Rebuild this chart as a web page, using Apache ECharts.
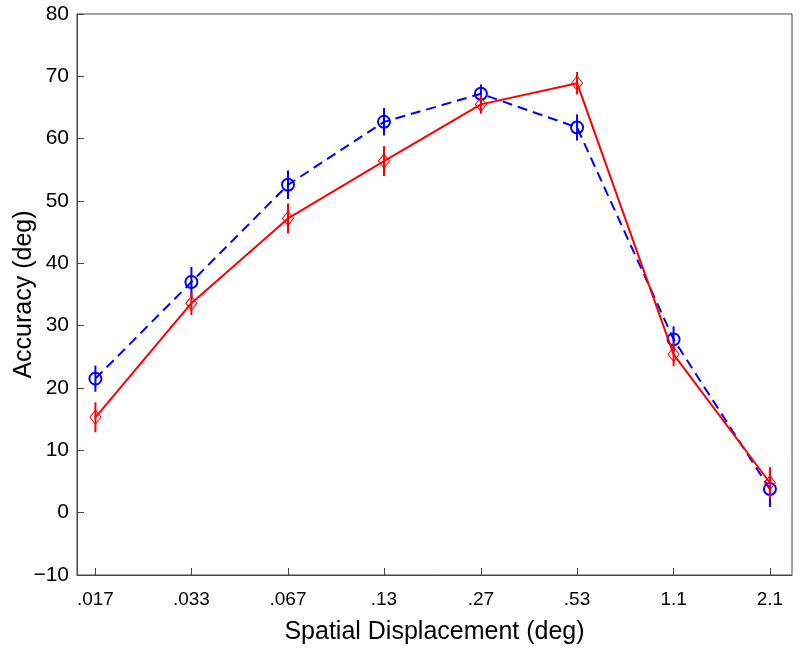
<!DOCTYPE html>
<html>
<head>
<meta charset="utf-8">
<script src="https://cdn.jsdelivr.net/npm/echarts@6/dist/echarts.min.js"></script>
<style>html,body{margin:0;padding:0;background:#fff}#c{width:800px;height:650px}</style>
</head>
<body>
<div id="c"></div>
<script>
// Spatial displacement (deg) – actual values and their printed tick labels
var xValues = [0.0167, 0.0333, 0.0667, 0.133, 0.267, 0.533, 1.067, 2.133];
var xTickLabels = ['.017', '.033', '.067', '.13', '.27', '.53', '1.1', '2.1'];

// Blue (dashed, circles)
var blueMean = [21.5, 37.0, 52.6, 62.7, 67.2, 61.8, 27.8, 3.8];
var blueErr  = [2.1, 2.4, 2.3, 2.2, 1.5, 2.1, 2.1, 2.9];

// Red (solid, diamonds)
var redMean = [15.3, 33.6, 47.2, 56.4, 65.5, 68.9, 25.4, 4.8];
var redErr  = [2.4, 1.9, 2.4, 2.4, 1.5, 1.8, 1.9, 2.5];

var FONT = 'Liberation Sans';
var AXIS = '#444';

function pts(m) { return xValues.map(function (x, i) { return [x, m[i]]; }); }
function errs(m, e) { return xValues.map(function (x, i) { return [x, m[i] - e[i], m[i] + e[i]]; }); }

function errSeries(data, color) {
  return {
    type: 'custom',
    data: data,
    silent: true,
    z: 3,
    renderItem: function (params, api) {
      var a = api.coord([api.value(0), api.value(1)]);
      var b = api.coord([api.value(0), api.value(2)]);
      return {
        type: 'line',
        shape: { x1: a[0], y1: a[1], x2: b[0], y2: b[1] },
        style: { stroke: color, lineWidth: 2 }
      };
    },
    encode: { x: 0, y: [1, 2] }
  };
}

var chart = echarts.init(document.getElementById('c'), null, { renderer: 'canvas' });
chart.setOption({
  animation: false,
  backgroundColor: '#fff',
  grid: { left: 77, right: 8, top: 14, bottom: 75, show: true, borderColor: AXIS, borderWidth: 1, containLabel: false, outerBoundsMode: 'none' },
  xAxis: {
    type: 'log',
    logBase: 2,
    min: 0.01463,
    max: 2.5,
    name: 'Spatial Displacement (deg)',
    nameLocation: 'middle',
    nameGap: 45,
    nameTextStyle: { fontFamily: FONT, fontSize: 25, color: '#000' },
    axisLine: { show: true, onZero: false, lineStyle: { color: AXIS, width: 1 } },
    axisTick: { show: true, inside: true, length: 7, customValues: xValues, lineStyle: { color: AXIS } },
    axisLabel: {
      customValues: xValues,
      margin: 15,
      fontFamily: FONT, fontSize: 19, color: '#000',
      formatter: function (v) {
        var best = 0, bd = Infinity;
        for (var i = 0; i < xValues.length; i++) {
          var d = Math.abs(Math.log(v) - Math.log(xValues[i]));
          if (d < bd) { bd = d; best = i; }
        }
        return xTickLabels[best];
      }
    },
    splitLine: { show: false },
    minorTick: { show: false }
  },
  yAxis: {
    type: 'value',
    min: -10,
    max: 80,
    interval: 10,
    name: 'Accuracy (deg)',
    nameLocation: 'middle',
    nameGap: 40,
    nameMoveOverlap: false,
    nameTextStyle: { fontFamily: FONT, fontSize: 25, color: '#000' },
    axisLine: { show: true, onZero: false, lineStyle: { color: AXIS, width: 1 } },
    axisTick: { show: true, inside: true, length: 7, lineStyle: { color: AXIS } },
    axisLabel: {
      margin: 8, fontFamily: FONT, fontSize: 21, color: '#000',
      formatter: function (v) { return v < 0 ? '\u2212' + Math.abs(v) : String(v); }
    },
    splitLine: { show: false }
  },
  series: [
    {
      type: 'line',
      data: pts(blueMean),
      z: 2,
      lineStyle: { color: '#0000ff', width: 2, type: [10, 6] },
      symbol: 'circle',
      symbolSize: 12,
      showAllSymbol: true,
      itemStyle: { color: 'rgba(255,255,255,0)', borderColor: '#0000ff', borderWidth: 2 }
    },
    errSeries(errs(blueMean, blueErr), '#0000ff'),
    {
      type: 'line',
      data: pts(redMean),
      z: 4,
      lineStyle: { color: '#ff0000', width: 2 },
      symbol: 'diamond',
      symbolSize: [11, 14],
      showAllSymbol: true,
      itemStyle: { color: 'rgba(255,255,255,0)', borderColor: '#ff0000', borderWidth: 1 }
    },
    errSeries(errs(redMean, redErr), '#ff0000')
  ]
});
</script>
</body>
</html>
